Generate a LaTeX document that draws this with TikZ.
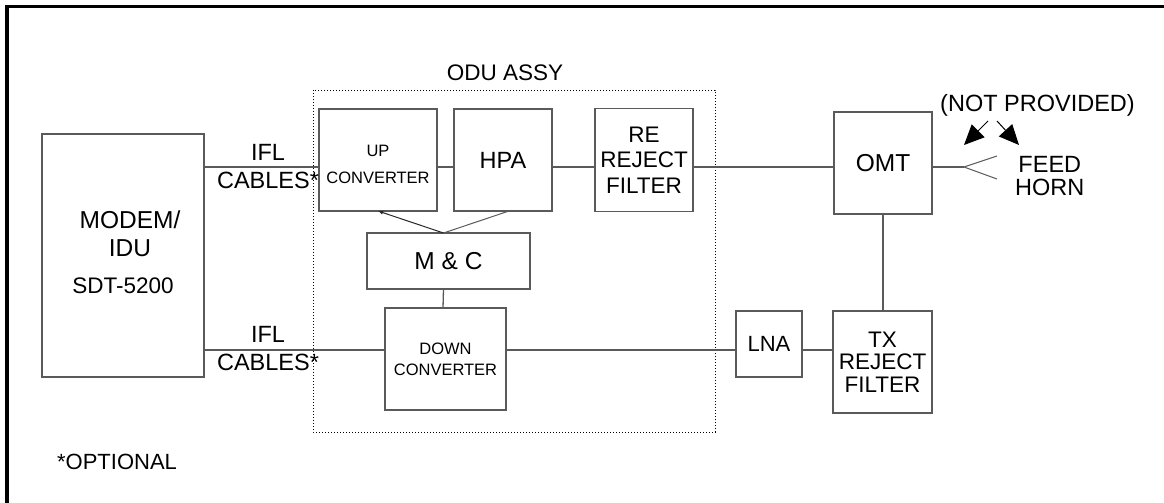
\documentclass[tikz,border=0pt]{standalone}
\usepackage{fontspec}
\setmainfont{Liberation Sans}
\usetikzlibrary{arrows.meta,positioning}
\definecolor{boxline}{HTML}{5A5A5A}
\tikzset{
  unitbox/.style={draw=boxline,line width=1.3pt,inner sep=0pt,outer sep=0pt,align=center,
    font=\fontsize{22.5}{25.5}\selectfont},
  smallbox/.style={unitbox,font=\fontsize{16.5}{27}\selectfont},
  cableline/.style={draw=boxline,line width=1.3pt},
  ctrlarrow/.style={draw=black!85,line width=1pt,-{Latex[length=5pt,width=4pt]}},
  notearrow/.style={line width=1pt,-{Triangle[length=20pt,width=18pt]}},
  figurelabel/.style={inner sep=0pt,align=center,font=\fontsize{23.5}{28}\selectfont},
  odubound/.style={draw,dotted,line width=1pt}
}
\begin{document}
\begin{tikzpicture}[x=1pt,y=-1pt,node distance=17pt]
  \useasboundingbox (0,0) rectangle (1164,503);
  % outer frame, only the top and left edges fall inside the page
  \draw[line width=3.5pt] (7,510) -- (7,6.5) -- (1170,6.5);
  % ODU enclosure
  \draw[odubound] (313,90) rectangle (715,432);
  \node[figurelabel,font=\fontsize{22.5}{25}\selectfont] (oduname) at (505,73) {ODU ASSY};

  \coordinate (txrow) at (0,167);
  \coordinate (rxrow) at (0,350);

  \node[unitbox,minimum width=162pt,minimum height=243pt] (modem) at (123,255.5) {};
  \node[figurelabel,font=\fontsize{24.5}{28}\selectfont] (modemname) at (130,234) {MODEM/\\IDU};
  \node[figurelabel,font=\fontsize{22.5}{25}\selectfont] (modemtype) at (123,286) {SDT-5200};

  \node[smallbox,minimum width=118pt,minimum height=102pt] (upconv) at (378,160)
    {\rule{0pt}{21pt}UP\\CONVERTER};
  \node[unitbox,minimum width=98pt,minimum height=102pt,right=17pt of upconv,
    font=\fontsize{23.5}{26}\selectfont] (hpa) {HPA};
  \node[unitbox,minimum width=98pt,minimum height=103pt,right=43pt of hpa] (refilter)
    {RE\\REJECT\\FILTER};
  \node[unitbox,minimum width=98pt,minimum height=102pt,font=\fontsize{24.5}{27}\selectfont]
    (omt) at (883,163) {OMT};
  \node[unitbox,minimum width=163pt,minimum height=56pt,font=\fontsize{24.5}{27}\selectfont]
    (mc) at (448.5,261) {M \& C};
  \node[smallbox,minimum width=121pt,minimum height=102pt,font=\fontsize{16.5}{21}\selectfont]
    (downconv) at (445.5,359) {DOWN\\CONVERTER};
  \node[unitbox,minimum width=66pt,minimum height=66pt,font=\fontsize{22}{24}\selectfont]
    (lna) at (769,344) {LNA};
  \node[unitbox,minimum width=99pt,minimum height=102pt,font=\fontsize{22.5}{22.5}\selectfont]
    (txfilter) at (882.5,362) {TX\\REJECT\\FILTER};

  % transmit chain
  \draw[cableline] (modem.east |- txrow) -- (upconv.west |- txrow);
  \draw[cableline] (upconv.east |- txrow) -- (hpa.west |- txrow);
  \draw[cableline] (hpa.east |- txrow) -- (refilter.west |- txrow);
  \draw[cableline] (refilter.east |- txrow) -- (omt.west |- txrow);
  \coordinate (hornapex) at (964,167);
  \draw[cableline] (omt.east |- txrow) -- (hornapex);
  \draw[cableline,line width=1pt] (hornapex) -- ++(33,-11) (hornapex) -- ++(33,12);
  % receive chain
  \draw[cableline] (modem.east |- rxrow) -- (downconv.west |- rxrow);
  \draw[cableline] (downconv.east |- rxrow) -- (lna.west |- rxrow);
  \draw[cableline] (lna.east |- rxrow) -- (txfilter.west |- rxrow);
  \draw[cableline] (omt.south) -- (omt.south |- txfilter.north);
  % monitor and control
  \coordinate (mctap) at ([xshift=-5pt]mc.north);
  \draw[ctrlarrow] (mctap) -- (upconv.south);
  \draw[cableline,line width=1pt] (mctap) -- ([xshift=6pt]hpa.south);
  \draw[cableline] ([xshift=-5pt]mc.south) -- ([xshift=-2.5pt]downconv.north);

  \node[figurelabel] (ifltx) at (268,167) {IFL\\CABLES*};
  \node[figurelabel] (iflrx) at (268,349) {IFL\\CABLES*};
  \node[figurelabel,font=\fontsize{22}{24}\selectfont] (optnote) at (117,462) {*OPTIONAL};

  \node[figurelabel,anchor=west] (notprov) at (940,105) {(NOT PROVIDED)};
  \node[figurelabel,anchor=west,font=\fontsize{23.5}{23}\selectfont] (feedhorn) at (1015,176.5)
    {FEED\\HORN};
  \coordinate (leftnote) at (988,121);
  \coordinate (leftend) at (964,145);
  \coordinate (rightnote) at (997,121);
  \coordinate (rightend) at (1019,145);
  \draw[notearrow] (leftnote) -- (leftend);
  \draw[notearrow] (rightnote) -- (rightend);
\end{tikzpicture}
\end{document}
